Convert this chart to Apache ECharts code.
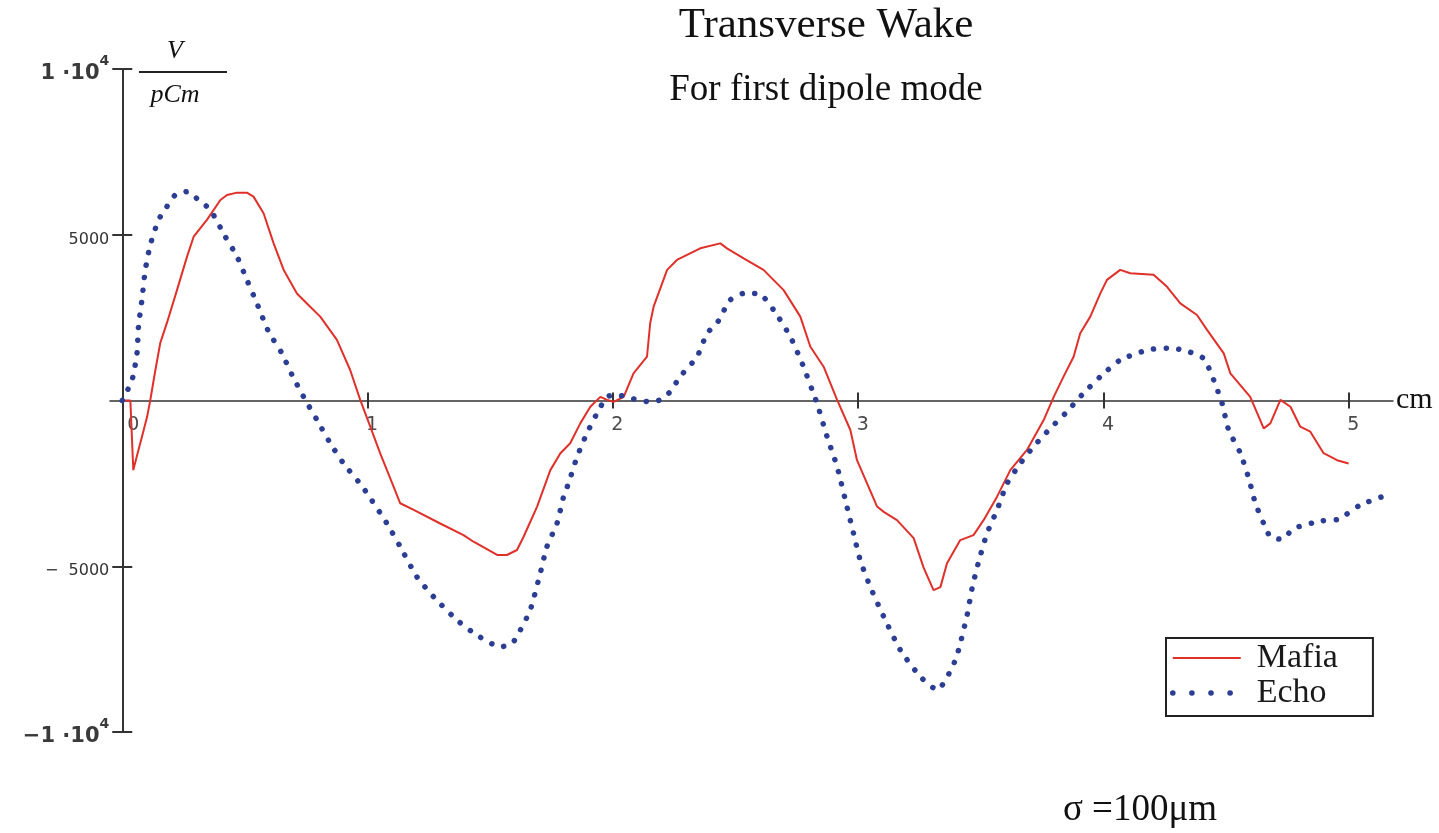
<!DOCTYPE html>
<html><head><meta charset="utf-8">
<script src="https://cdn.jsdelivr.net/npm/echarts@6/dist/echarts.min.js"></script>
<style>html,body{margin:0;padding:0;background:#fff}#c{width:1439px;height:833px}</style>
</head><body><div id="c"></div>
<script>
const mafiaX = [0,0.033,0.045,0.053,0.061,0.080,0.101,0.114,0.135,0.155,0.182,0.223,0.264,0.291,0.345,0.400,0.427,0.468,0.508,0.535,0.576,0.617,0.658,0.712,0.766,0.807,0.875,0.929,0.970,1.011,1.051,1.106,1.133,1.188,1.296,1.391,1.432,1.528,1.568,1.609,1.636,1.691,1.745,1.786,1.826,1.867,1.908,1.949,1.976,2.003,2.044,2.084,2.139,2.152,2.166,2.221,2.261,2.356,2.438,2.465,2.533,2.614,2.696,2.764,2.805,2.859,2.914,2.968,2.995,3.036,3.077,3.104,3.158,3.226,3.267,3.307,3.335,3.362,3.416,3.470,3.511,3.566,3.620,3.688,3.756,3.797,3.837,3.878,3.905,3.946,3.987,4.014,4.068,4.109,4.204,4.259,4.313,4.381,4.422,4.490,4.517,4.598,4.653,4.680,4.721,4.762,4.802,4.843,4.897,4.952,4.999];
const mafiaY = [0,0,-2100,-2100,-1640,-1100,-500,0,920,1740,2340,3330,4340,4940,5450,6050,6200,6270,6270,6150,5650,4740,3940,3230,2830,2530,1830,920,20,-790,-1590,-2600,-3100,-3300,-3710,-4060,-4260,-4660,-4660,-4510,-4110,-3200,-2100,-1590,-1290,-690,-190,110,20,-40,110,820,1320,2330,2830,3940,4240,4590,4740,4590,4290,3940,3330,2530,1620,1020,20,-890,-1800,-2500,-3200,-3360,-3610,-4150,-5050,-5720,-5630,-4910,-4210,-4060,-3610,-2900,-2100,-1490,-590,110,720,1320,2030,2530,3230,3640,3940,3840,3790,3430,2930,2580,2130,1420,820,110,-840,-690,20,-190,-790,-940,-1590,-1800,-1900];
const echoX = [0,0.040,0.060,0.066,0.080,0.094,0.114,0.148,0.182,0.216,0.264,0.311,0.359,0.420,0.468,0.508,0.549,0.596,0.651,0.692,0.746,0.794,0.848,0.902,0.963,0.998,1.079,1.133,1.201,1.269,1.364,1.446,1.541,1.589,1.623,1.663,1.704,1.731,1.772,1.799,1.819,1.854,1.894,1.935,1.976,2.017,2.071,2.152,2.193,2.234,2.274,2.343,2.384,2.424,2.478,2.533,2.594,2.655,2.723,2.777,2.812,2.832,2.873,2.914,2.954,2.981,3.008,3.049,3.104,3.172,3.253,3.322,3.396,3.444,3.464,3.491,3.525,3.566,3.607,3.661,3.715,3.783,3.851,3.912,3.987,4.068,4.177,4.259,4.327,4.408,4.449,4.483,4.510,4.558,4.592,4.619,4.653,4.680,4.728,4.775,4.891,4.958,5.047,5.149];
const echoY = [0,620,1420,2230,3030,3940,4690,5450,5850,6200,6300,6050,5750,4940,4340,3640,2930,2080,1420,770,20,-590,-1290,-1900,-2450,-2800,-3710,-4410,-5320,-5920,-6620,-7080,-7430,-7330,-6920,-6320,-5210,-4410,-3710,-2900,-2500,-1700,-990,-390,110,170,70,-40,20,270,720,1320,2030,2330,3030,3230,3230,2730,1930,1020,320,-80,-1090,-2000,-3200,-4010,-4810,-5620,-6520,-7530,-8330,-8730,-7830,-6470,-5670,-4860,-4010,-3300,-2500,-1900,-1390,-840,-340,170,720,1220,1520,1580,1520,1270,620,-80,-890,-1590,-2350,-3100,-3710,-4110,-4190,-3860,-3630,-3580,-3150,-2870];
const xTickValues = [1, 2, 3, 4, 5];
const xLabelValues = [0, 1, 2, 3, 4, 5];
const yTickValues = [-10000, -5000, 5000, 10000];

const mafiaData = mafiaX.map((x, i) => [x, mafiaY[i]]);
const echoData = echoX.map((x, i) => [x, echoY[i]]);

const axisColor = '#333';
const chart = echarts.init(document.getElementById('c'), null, {renderer: 'canvas'});
const serif = "'Liberation Serif', 'Times New Roman', serif";
const labelFont = "'DejaVu Sans', sans-serif";

// axis placement: the axes cross at (0, 0) inside the grid
const X_MIN = -0.05, X_MAX = 5.18, Y_MIN = -10000, Y_MAX = 10000;
const G = {left: 110, right: 46, top: 69, bottom: 101};
const gw = 1439 - G.left - G.right, gh = 833 - G.top - G.bottom;
const xZeroShift = (0 - X_MIN) / (X_MAX - X_MIN) * gw;   // px from grid left to x = 0
const yZeroShift = (Y_MAX - 0) / (Y_MAX - Y_MIN) * gh;   // px from grid top to y = 0

chart.setOption({
  backgroundColor: '#fff',
  animation: false,
  grid: G,
  graphic: [
    {type: 'text', x: 826, y: 26, style: {text: 'Transverse Wake', font: "43px " + serif, fill: '#111', align: 'center', verticalAlign: 'middle'}},
    {type: 'text', x: 826, y: 90, style: {text: 'For first dipole mode', font: "37px " + serif, fill: '#111', align: 'center', verticalAlign: 'middle'}},
    {type: 'text', x: 175, y: 51, style: {text: 'V', font: "italic 26px " + serif, fill: '#111', align: 'center', verticalAlign: 'middle'}},
    {type: 'line', shape: {x1: 139, y1: 72, x2: 227, y2: 72}, style: {stroke: '#222', lineWidth: 2}},
    {type: 'text', x: 175, y: 95, style: {text: 'pCm', font: "italic 26px " + serif, fill: '#111', align: 'center', verticalAlign: 'middle'}},
    {type: 'text', x: 1140, y: 810, style: {text: 'σ =100μm', font: "37px " + serif, fill: '#111', align: 'center', verticalAlign: 'middle'}}
  ],
  legend: {
    data: [
      {name: 'Mafia', lineStyle: {width: 2, color: '#e0302a'}},
      {name: 'Echo', lineStyle: {width: 5.5, color: '#2c3e94', type: [0.1, 19], cap: 'round'}}
    ],
    orient: 'vertical',
    left: 1166, top: 638,
    itemWidth: 68, itemHeight: 14, itemGap: 1,
    padding: [3, 35, 6, 4],
    borderColor: '#222', borderWidth: 2,
    itemStyle: {color: 'transparent', borderWidth: 0, opacity: 0},
    textStyle: {fontFamily: serif, fontSize: 34, color: '#1a1a1a', padding: [0, 0, 0, 11]}
  },
  xAxis: [{
    type: 'value', min: X_MIN, max: X_MAX, position: 'bottom', offset: -yZeroShift,
    axisLine: {onZero: false, lineStyle: {color: axisColor, width: 1.5}},
    axisTick: {show: true, length: 8, customValues: xTickValues, lineStyle: {color: axisColor, width: 2}},
    axisLabel: {customValues: xLabelValues, margin: 15, fontFamily: labelFont, fontSize: 19, color: '#4a4a4a',
      formatter: v => v === 0 ? '{z|0}' : '{n|' + v + '}',
      rich: {z: {padding: [0, 0, 0, 22], fontFamily: labelFont, fontSize: 19, color: '#4a4a4a'}, n: {padding: [0, 0, 0, 9], fontFamily: labelFont, fontSize: 19, color: '#4a4a4a'}}},
    splitLine: {show: false},
    name: 'cm', nameLocation: 'end', nameGap: 3,
    nameTextStyle: {fontFamily: serif, fontSize: 30, color: '#111', padding: [0, 0, 20, 0]}
  }, {
    type: 'value', min: X_MIN, max: X_MAX, position: 'top', offset: -(gh - yZeroShift),
    axisLine: {show: false, onZero: false},
    axisTick: {show: true, length: 8, customValues: xTickValues, lineStyle: {color: axisColor, width: 2}},
    axisLabel: {show: false},
    splitLine: {show: false}
  }],
  yAxis: [{
    type: 'value', min: Y_MIN, max: Y_MAX, interval: 5000, position: 'left', offset: -xZeroShift,
    axisLine: {onZero: false, lineStyle: {color: axisColor, width: 2}},
    axisTick: {show: true, length: 10, customValues: yTickValues, lineStyle: {color: axisColor, width: 2}},
    axisLabel: {customValues: yTickValues, margin: 13, fontFamily: labelFont, fontSize: 16, color: '#333',
      formatter: v => {
        if (v === 10000) return '{b|1 ·10}{s|4}';
        if (v === -10000) return '{b|−1 ·10}{s|4}';
        if (v === 0) return '';
        return v < 0 ? '{n|−  ' + Math.abs(v) + '}' : '{n|' + v + '}';
      },
      rich: {n: {fontFamily: labelFont, fontSize: 16, color: '#333', lineHeight: 26, verticalAlign: 'bottom'},
             b: {fontFamily: labelFont, fontSize: 21, fontWeight: 'bold', color: '#3a3a3a', lineHeight: 30, verticalAlign: 'bottom'},
             s: {fontFamily: labelFont, fontSize: 14, fontWeight: 'bold', color: '#3a3a3a', lineHeight: 14, verticalAlign: 'top'}}},
    splitLine: {show: false}
  }, {
    type: 'value', min: Y_MIN, max: Y_MAX, interval: 5000, position: 'right', offset: -(gw - xZeroShift),
    axisLine: {show: false, onZero: false},
    axisTick: {show: true, length: 10, customValues: yTickValues, lineStyle: {color: axisColor, width: 2}},
    axisLabel: {show: false},
    splitLine: {show: false}
  }],
  series: [{
    name: 'Mafia', type: 'line', xAxisIndex: 0, yAxisIndex: 0,
    data: mafiaData, symbol: 'none', showSymbol: false,
    lineStyle: {color: '#e0302a', width: 2},
    itemStyle: {color: '#e0302a'}
  }, {
    name: 'Echo', type: 'line', xAxisIndex: 0, yAxisIndex: 0,
    data: echoData, symbol: 'none', showSymbol: false, smooth: 0.2,
    lineStyle: {color: '#2c3e94', width: 5.5, type: [0.1, 12.5], cap: 'round'},
    itemStyle: {color: '#2c3e94'}
  }]
});
</script>
</body></html>
